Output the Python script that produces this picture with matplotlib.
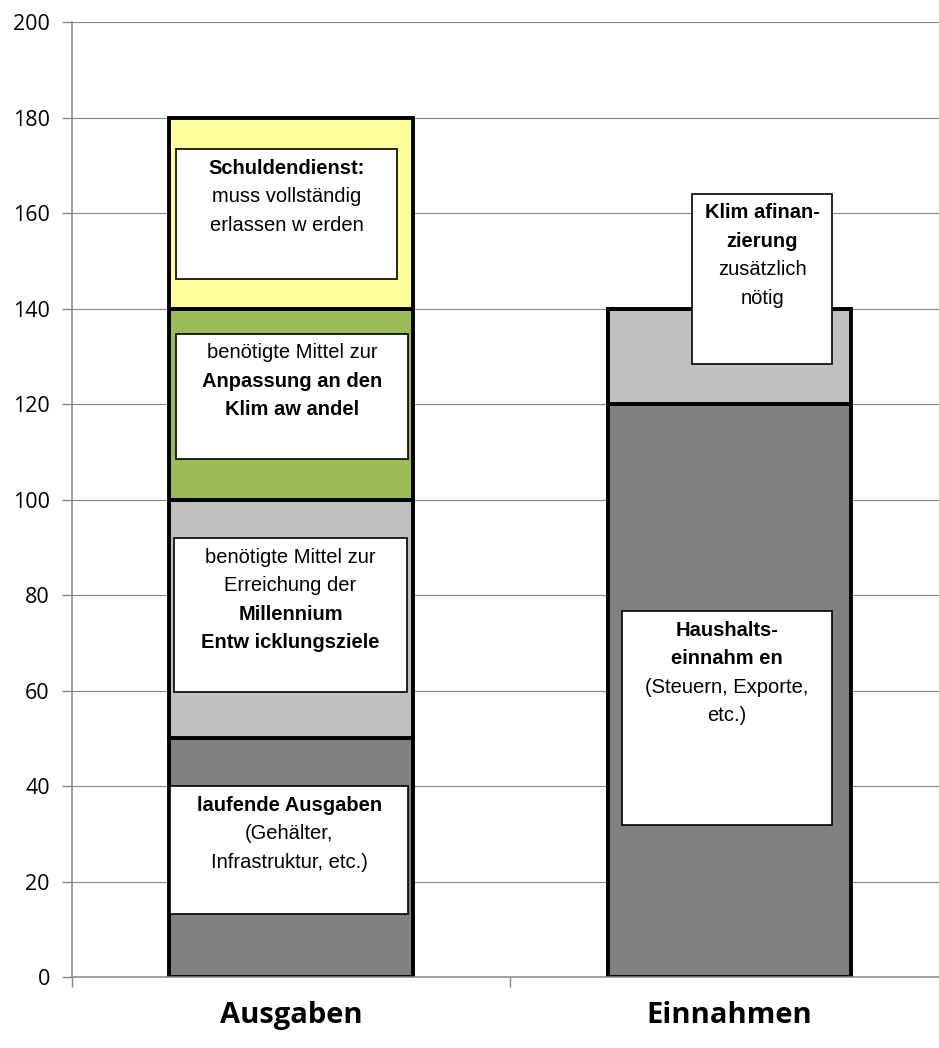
import matplotlib.pyplot as plt
from matplotlib.patches import Rectangle

# data
categories = ["Ausgaben", "Einnahmen"]
laufend = [50, 120]       # dark gray
mdg = [50, 20]            # light gray
anpassung = [40, 0]       # green
schulden = [40, 0]        # yellow
yticks = [0, 20, 40, 60, 80, 100, 120, 140, 160, 180, 200]

# annotation boxes: (x0, x1, y0, y1), lines (text, bold)
boxes = [
    ((-0.263, 0.242, 146.2, 173.4), [("Schuldendienst:", True), ("muss vollständig", False),
                                      ("erlassen w erden", False)]),
    ((-0.263, 0.267, 108.5, 134.7), [("benötigte Mittel zur", False), ("Anpassung an den", True),
                                      ("Klim aw andel", True)]),
    ((-0.267, 0.265, 59.7, 91.9), [("benötigte Mittel zur", False), ("Erreichung der", False),
                                    ("Millennium", True), ("Entw icklungsziele", True)]),
    ((-0.276, 0.267, 13.2, 40.0), [("laufende Ausgaben", True), ("(Gehälter,", False),
                                    ("Infrastruktur, etc.)", False)]),
    ((0.916, 1.235, 128.4, 164.0), [("Klim afinan-", True), ("zierung", True),
                                     ("zusätzlich", False), ("nötig", False)]),
    ((0.756, 1.235, 31.8, 76.6), [("Haushalts-", True), ("einnahm en", True),
                                   ("(Steuern, Exporte,", False), ("etc.)", False)]),
]

fig = plt.figure(figsize=(9.39, 10.48), dpi=100)
ax = fig.add_axes([0.0767, 0.0677, 0.933, 0.9113])

x = [0, 1]
w = 0.555
bottom = [0, 0]
for vals, col in [(laufend, "#808080"), (mdg, "#c0c0c0"), (anpassung, "#9bbb59"), (schulden, "#ffff99")]:
    ax.bar(x, vals, w, bottom=bottom, color=col, edgecolor="black", linewidth=2.8, zorder=2)
    bottom = [b + v for b, v in zip(bottom, vals)]

px = 200 / 955.0  # data units per pixel
for (x0, x1, y0, y1), lines in boxes:
    ax.add_patch(Rectangle((x0, y0), x1 - x0, y1 - y0, facecolor="white", edgecolor="black",
                           linewidth=1.2, zorder=3))
    xc = (x0 + x1) / 2
    for i, (txt, bold) in enumerate(lines):
        ax.text(xc, y1 - (19 + 28.5 * i) * px, txt, ha="center", va="center", fontsize=14.5,
                family="Liberation Sans", fontweight="bold" if bold else "normal", zorder=4)

ax.set_xlim(-0.5, 1.5)
ax.set_ylim(0, 200)
ax.set_yticks(yticks)
ax.grid(axis="y", color="#868686", linewidth=0.8, zorder=0)
ax.set_axisbelow(True)

ax.set_xticks(x)
ax.set_xticklabels(categories, fontsize=21, fontweight="bold", family="Open Sans")
ax.set_xticks([-0.5, 0.5, 1.5], minor=True)
ax.tick_params(axis="x", which="major", length=0, pad=17)
ax.tick_params(axis="x", which="minor", length=7, color="#868686", width=1)
ax.tick_params(axis="y", length=7, color="#868686", width=1, pad=9, labelsize=15.5)
for lab in ax.get_yticklabels():
    lab.set_family("Open Sans")

for s in ["top", "right"]:
    ax.spines[s].set_visible(False)
for s in ["left", "bottom"]:
    ax.spines[s].set_color("#868686")
    ax.spines[s].set_linewidth(1.1)

fig.savefig("out.png", dpi=100)
